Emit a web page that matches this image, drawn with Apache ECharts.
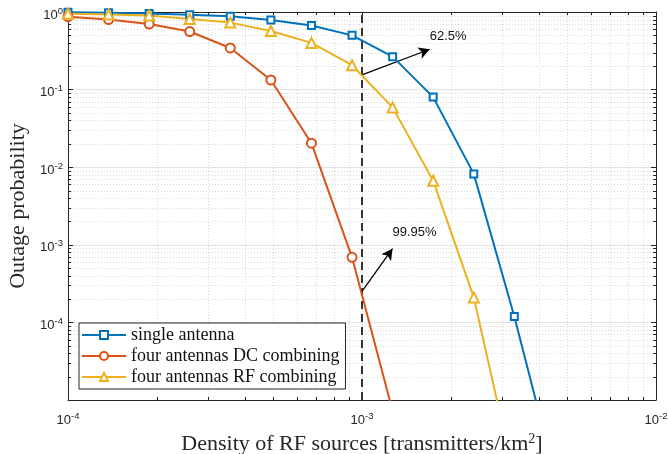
<!DOCTYPE html>
<html>
<head>
<meta charset="utf-8">
<script src="https://cdn.jsdelivr.net/npm/echarts@6/dist/echarts.min.js"></script>
<style>html,body{margin:0;padding:0;background:#fff}#c{width:668px;height:454px}</style>
</head>
<body>
<div id="c"></div>
<script>
// Density of RF sources (transmitters/km^2)
const density = [1.0e-4, 1.374e-4, 1.888e-4, 2.594e-4, 3.565e-4, 4.898e-4, 6.73e-4, 9.25e-4, 1.271e-3, 1.746e-3, 2.40e-3, 3.297e-3, 4.53e-3];
const singleAntenna = [0.99, 0.98, 0.96, 0.92, 0.88, 0.79, 0.67, 0.50, 0.266, 0.080, 0.0082, 1.19e-4, 1.1e-6];
const dcCombining = [0.87, 0.80, 0.70, 0.56, 0.344, 0.133, 0.0204, 6.9e-4, 7.2e-6];
const rfCombining = [0.95, 0.93, 0.90, 0.81, 0.73, 0.57, 0.40, 0.206, 0.059, 0.0067, 2.1e-4, 1.0e-6];
const seriesNames = ['single antenna', 'four antennas DC combining', 'four antennas RF combining'];
const threshold = 1e-3;
const annotations = [
  { from: [1e-3, 0.155], to: [1.70e-3, 0.331], text: '62.5%', at: [1.70e-3, 0.49] },
  { from: [1e-3, 2.51e-4], to: [1.27e-3, 8.9e-4], text: '99.95%', at: [1.27e-3, 1.43e-3] }
];
const xRange = [1e-4, 1e-2];
const yRange = [1e-5, 1];

function pairs(xs, ys) { return ys.map((y, i) => [xs[i], y]); }

// minor tick values (2..9 within each decade)
const xMinor = [], yMinor = [];
for (let e = -4; e < -2; e++) for (let m = 2; m <= 9; m++) xMinor.push(m * Math.pow(10, e));
for (let e = -5; e < 0; e++) for (let m = 2; m <= 9; m++) yMinor.push(m * Math.pow(10, e));
const minorData = xMinor.map(v => [v, 0.5, 0]).concat(yMinor.map(v => [1e-3, v, 1]));

const axisColor = '#262626';
const tickRich = {
  b: { fontFamily: 'Liberation Sans', fontSize: 13, color: '#262626', padding: [6, 0, 0, 0] },
  s: { fontFamily: 'Liberation Sans', fontSize: 9.5, color: '#262626', padding: [0, 0, 2, 0] }
};
function logLabel(v) {
  const e = Math.round(Math.log10(v));
  if (e === -5) return '';
  return '{b|10}{s|' + e + '}';
}

const chart = echarts.init(document.getElementById('c'), null, { renderer: 'canvas' });
const colors = ['#0072BD', '#D95319', '#EDB120'];
const symbols = ['emptyRect', 'emptyCircle', 'emptyTriangle'];
const symSizes = [7, 9, 10];
const dataSets = [singleAntenna, dcCombining, rfCombining];

const series = dataSets.map((d, i) => ({
  name: seriesNames[i],
  type: 'line',
  data: pairs(density, d),
  symbol: symbols[i],
  symbolSize: symSizes[i],
  showAllSymbol: true,
  clip: true,
  z: 5,
  itemStyle: { color: colors[i], borderWidth: 1.6 },
  lineStyle: { color: colors[i], width: 2 }
}));

series.push({
  name: 'threshold',
  type: 'line',
  data: [[threshold, yRange[0]], [threshold, yRange[1]]],
  symbol: 'none',
  z: 4,
  lineStyle: { color: '#333', width: 2, type: [8, 5] },
  markLine: {
    silent: true,
    symbol: ['none', 'arrow'],
    symbolSize: [9, 11],
    label: { show: false },
    lineStyle: { color: '#000', width: 1.3, type: 'solid' },
    data: annotations.map(a => [{ coord: a.from }, { coord: a.to }])
  },
  markPoint: {
    silent: true,
    symbol: 'circle',
    symbolSize: 0,
    label: {
      show: true, position: 'right', distance: 0,
      fontFamily: 'Liberation Sans', fontSize: 13, color: '#111',
      formatter: p => p.name
    },
    data: annotations.map(a => ({ name: a.text, coord: a.at }))
  }
});

series.push({
  name: 'minor',
  type: 'custom',
  silent: true,
  z: 1,
  data: minorData,
  encode: { x: 0, y: 1 },
  renderItem: function (params, api) {
    const cs = params.coordSys;
    const o = api.value(2);
    const grid = { stroke: '#d9d9d9', lineWidth: 1, lineDash: [1, 2] };
    const tick = { stroke: axisColor, lineWidth: 1 };
    if (o === 0) {
      const px = Math.round(api.coord([api.value(0), 0.5])[0]) + 0.5;
      return { type: 'group', children: [
        { type: 'line', shape: { x1: px, y1: cs.y, x2: px, y2: cs.y + cs.height }, style: grid },
        { type: 'line', shape: { x1: px, y1: cs.y + cs.height, x2: px, y2: cs.y + cs.height - 3 }, style: tick },
        { type: 'line', shape: { x1: px, y1: cs.y, x2: px, y2: cs.y + 3 }, style: tick }
      ]};
    } else {
      const py = Math.round(api.coord([1e-3, api.value(1)])[1]) + 0.5;
      return { type: 'group', children: [
        { type: 'line', shape: { x1: cs.x, y1: py, x2: cs.x + cs.width, y2: py }, style: grid },
        { type: 'line', shape: { x1: cs.x, y1: py, x2: cs.x + 3, y2: py }, style: tick },
        { type: 'line', shape: { x1: cs.x + cs.width, y1: py, x2: cs.x + cs.width - 3, y2: py }, style: tick }
      ]};
    }
  }
});

const baseAxis = {
  type: 'log', logBase: 10,
  axisLine: { show: true, onZero: false, lineStyle: { color: axisColor, width: 1 } },
  axisTick: { show: true, inside: true, length: 5, lineStyle: { color: axisColor } },
  minorTick: { show: false }
};

chart.setOption({
  animation: false,
  backgroundColor: '#fff',
  grid: { left: 68, right: 12, top: 12, bottom: 54, containLabel: false, outerBoundsMode: 'none' },
  legend: {
    data: seriesNames,
    orient: 'vertical',
    left: 79, top: 323,
    padding: [3, 6, 3, 2],
    itemWidth: 44, itemHeight: 10, itemGap: 3,
    backgroundColor: '#fff',
    borderColor: '#262626', borderWidth: 1,
    textStyle: { fontFamily: 'Liberation Serif', fontSize: 18, color: '#111' }
  },
  xAxis: [
    Object.assign({}, baseAxis, {
      position: 'bottom', min: xRange[0], max: xRange[1], splitNumber: 2,
      axisLabel: { formatter: logLabel, rich: tickRich, margin: 8 },
      splitLine: { show: true, lineStyle: { color: '#e3e3e3', width: 1 } },
      name: '{a|Density of RF sources [transmitters/km}{s|2}{a|]}',
      nameLocation: 'middle', nameGap: 21,
      nameTextStyle: { rich: {
        a: { fontFamily: 'Liberation Serif', fontSize: 22, color: '#262626' },
        s: { fontFamily: 'Liberation Serif', fontSize: 14, color: '#262626', padding: [0, 0, 10, 0] }
      } }
    }),
    Object.assign({}, baseAxis, {
      position: 'top', min: xRange[0], max: xRange[1], splitNumber: 2,
      axisLabel: { show: false }, splitLine: { show: false }
    })
  ],
  yAxis: [
    Object.assign({}, baseAxis, {
      position: 'left', min: yRange[0], max: yRange[1], splitNumber: 5,
      axisLabel: { formatter: logLabel, rich: tickRich, margin: 5 },
      splitLine: { show: true, lineStyle: { color: '#e3e3e3', width: 1 } },
      name: 'Outage probability',
      nameLocation: 'middle', nameGap: 26,
      nameTextStyle: { fontFamily: 'Liberation Serif', fontSize: 22, color: '#262626' }
    }),
    Object.assign({}, baseAxis, {
      position: 'right', min: yRange[0], max: yRange[1], splitNumber: 5,
      axisLabel: { show: false }, splitLine: { show: false }
    })
  ],
  series: series
});
</script>
</body>
</html>
